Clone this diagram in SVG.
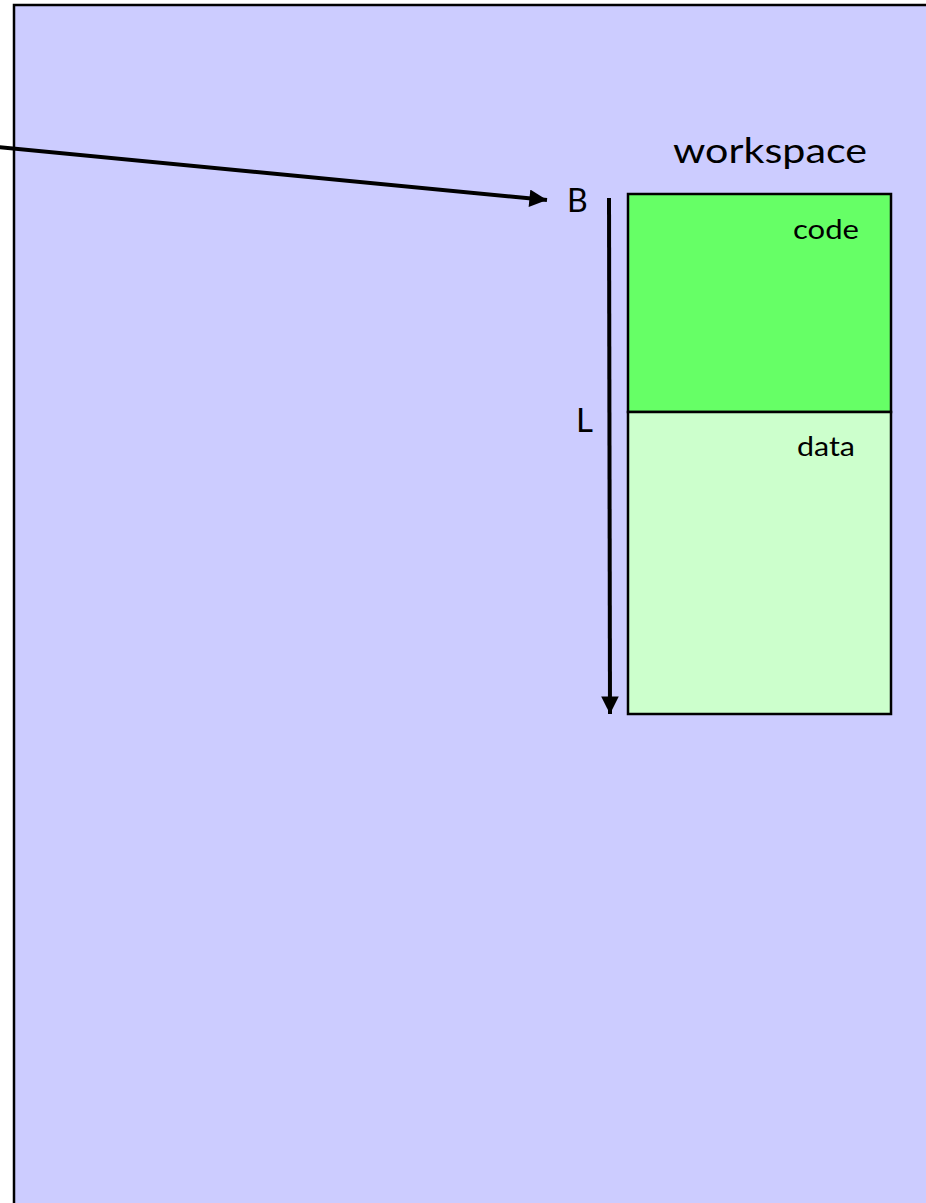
<svg xmlns="http://www.w3.org/2000/svg" width="926" height="1203" viewBox="0 0 926 1203">
  <style>
    .lbl { font-family: Lato, "Liberation Sans", sans-serif; fill: #000; }
    .box { stroke: #000; stroke-width: 2.5; }
    .conn { stroke: #000; stroke-width: 4; fill: none; }
  </style>
  <defs>
    <marker id="head" viewBox="0 0 10 10" refX="10" refY="5" markerWidth="4.6" markerHeight="4.4" markerUnits="strokeWidth" orient="auto">
      <path d="M0,0 L10,5 L0,10 Z" fill="#000"/>
    </marker>
  </defs>
  <rect width="926" height="1203" fill="#fff"/>

  <!-- outer region -->
  <g id="region">
    <rect x="14" y="5" width="930" height="1220" fill="#CCCCFF" stroke="#000" stroke-width="2.5"/>
  </g>

  <!-- workspace block -->
  <g id="workspace">
    <text class="lbl" x="770" y="163" font-size="35" text-anchor="middle" textLength="194" lengthAdjust="spacingAndGlyphs">workspace</text>
  </g>
  <g id="code">
    <rect class="box" x="628" y="194" width="263" height="218" fill="#66FF66"/>
    <text class="lbl" x="859" y="239" font-size="27" text-anchor="end" textLength="66" lengthAdjust="spacingAndGlyphs">code</text>
  </g>
  <g id="data">
    <rect class="box" x="628" y="412" width="263" height="302" fill="#CCFFCC"/>
    <text class="lbl" x="855" y="456" font-size="27" text-anchor="end" textLength="58" lengthAdjust="spacingAndGlyphs">data</text>
  </g>
  <g id="labelB">
    <text class="lbl" x="567" y="212" font-size="32">B</text>
  </g>
  <g id="labelL">
    <text class="lbl" x="576" y="432" font-size="33">L</text>
  </g>

  <!-- connectors -->
  <g id="connectors">
    <line class="conn" x1="-2" y1="147" x2="547" y2="200" marker-end="url(#head)"/>
    <line class="conn" x1="609" y1="198" x2="610" y2="714" marker-end="url(#head)"/>
  </g>
</svg>
